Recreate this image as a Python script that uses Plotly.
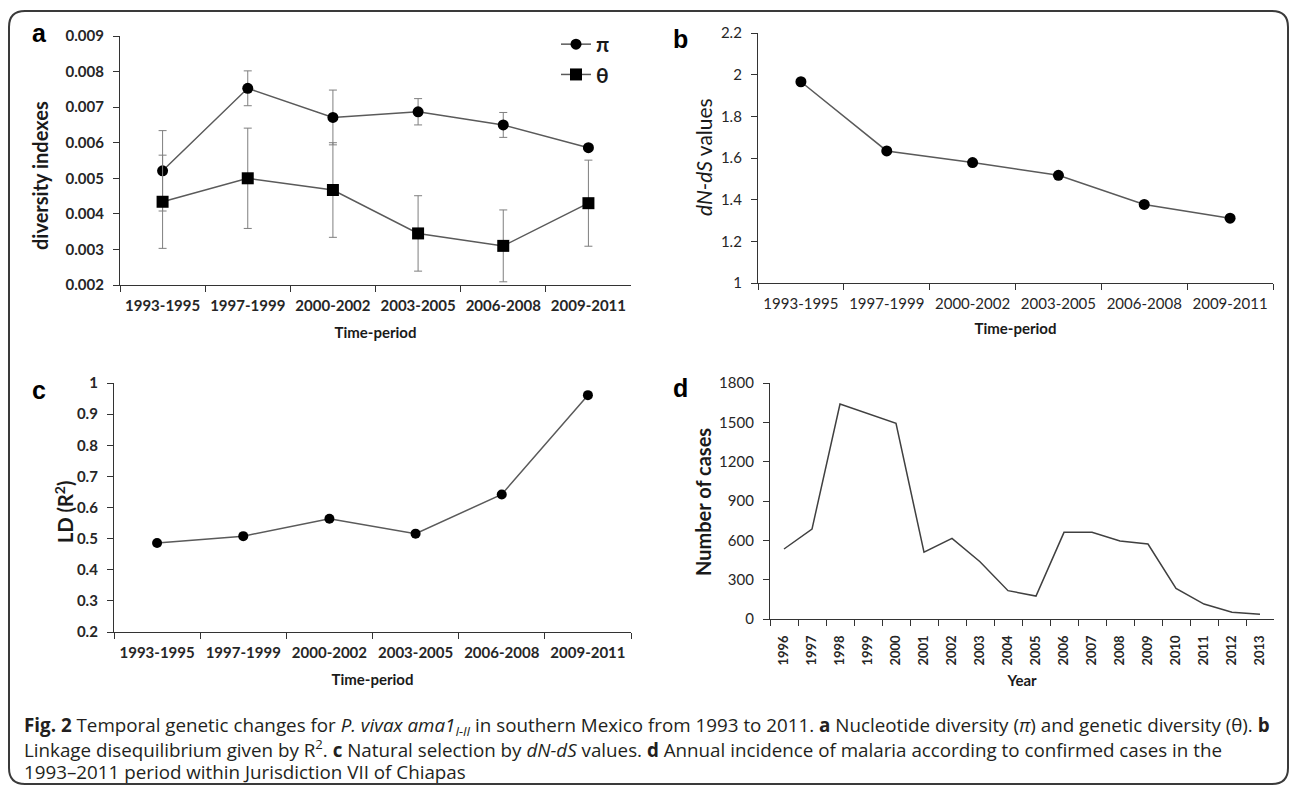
import plotly.graph_objects as go

W, H = 1292, 789

periods = ["1993-1995", "1997-1999", "2000-2002", "2003-2005", "2006-2008", "2009-2011"]
pi_vals = [0.00521, 0.00753, 0.00671, 0.00687, 0.00650, 0.00586]
pi_err = [0.00113, 0.00049, 0.00077, 0.00037, 0.00035, 0.0]
theta_vals = [0.00434, 0.00500, 0.00467, 0.00345, 0.00310, 0.00430]
theta_err = [0.00131, 0.00141, 0.00133, 0.00106, 0.00101, 0.00121]
dnds_vals = [1.966, 1.634, 1.578, 1.517, 1.377, 1.311]
ld_vals = [0.486, 0.508, 0.564, 0.516, 0.642, 0.961]
years = [str(y) for y in range(1996, 2014)]
cases = [534, 686, 1640, 1569, 1493, 509, 615, 437, 216, 175, 661, 661, 595, 572, 234, 114, 52, 37]


def px(x):
    return x / W


def py(y):
    return 1 - y / H


LINE = "#5a5a5a"
TICKF = dict(family="Lato", size=15, color="#262626", weight="bold")
TICKF_REG = dict(family="Lato", size=15, color="#262626")
TITLEF = dict(family="Lato", size=20, color="#1a1a1a", weight="bold")

fig = go.Figure()

# panel a
fig.add_trace(go.Scatter(
    x=periods, y=pi_vals, name="<b>π</b>", mode="lines+markers",
    line=dict(color=LINE, width=1.5),
    marker=dict(symbol="circle", size=11, color="black"),
    error_y=dict(type="data", array=pi_err, visible=True, color="#7f7f7f", thickness=1, width=4),
    xaxis="x", yaxis="y"))
fig.add_trace(go.Scatter(
    x=periods, y=theta_vals, name="<b>θ</b>", mode="lines+markers",
    line=dict(color=LINE, width=1.5),
    marker=dict(symbol="square", size=12, color="black"),
    error_y=dict(type="data", array=theta_err, visible=True, color="#7f7f7f", thickness=1, width=4),
    xaxis="x", yaxis="y"))
# panel b
fig.add_trace(go.Scatter(
    x=periods, y=dnds_vals, mode="lines+markers", showlegend=False,
    line=dict(color=LINE, width=1.5),
    marker=dict(symbol="circle", size=11, color="black"),
    xaxis="x2", yaxis="y2"))
# panel c
fig.add_trace(go.Scatter(
    x=periods, y=ld_vals, mode="lines+markers", showlegend=False,
    line=dict(color=LINE, width=1.5),
    marker=dict(symbol="circle", size=10, color="black"),
    xaxis="x3", yaxis="y3"))
# panel d
fig.add_trace(go.Scatter(
    x=years, y=cases, mode="lines", showlegend=False,
    line=dict(color="#404040", width=1.5),
    xaxis="x4", yaxis="y4"))


def xcat(dom, anchor, title, n, tickfont, angle=0, standoff=14, lblpad=7):
    return dict(domain=dom, anchor=anchor, type="category", range=[-0.5, n - 0.5],
                tickson="boundaries", ticklabelstandoff=lblpad,
                ticks="outside", ticklen=6, tickcolor="#333", showline=True, linecolor="#333",
                linewidth=1.3, showgrid=False, zeroline=False, tickfont=tickfont, tickangle=angle,
                title=dict(text=title, font=dict(family="Lato", size=15, color="#1a1a1a", weight="bold"),
                           standoff=standoff),
                automargin=False, fixedrange=True)


def ylin(dom, anchor, rng, dtick, tickfont, fmt=""):
    return dict(domain=dom, anchor=anchor, range=rng, dtick=dtick, tick0=rng[0], ticks="outside",
                ticklen=6, tickcolor="#333", showline=True, linecolor="#333", linewidth=1.3,
                showgrid=False, zeroline=False, tickfont=tickfont, tickformat=fmt,
                ticklabelstandoff=6, automargin=False, fixedrange=True)


fig.update_layout(
    width=W, height=H, margin=dict(l=0, r=0, t=0, b=0),
    paper_bgcolor="white", plot_bgcolor="white",
    xaxis=xcat([px(120), px(631)], "y", "Time-period", 6, TICKF),
    yaxis=ylin([py(285), py(36)], "x", [0.002, 0.009], 0.001, TICKF, ".3f"),
    xaxis2=xcat([px(758), px(1273)], "y2", "Time-period", 6, TICKF_REG, standoff=12),
    yaxis2=ylin([py(283), py(33)], "x2", [1, 2.2], 0.2, TICKF_REG),
    xaxis3=xcat([px(114), px(631)], "y3", "Time-period", 6, TICKF),
    yaxis3=ylin([py(632), py(383)], "x3", [0.2, 1.0], 0.1, TICKF),
    xaxis4=xcat([px(770), px(1274)], "y4", "Year", 18,
                dict(family="Lato", size=13, color="#262626", weight="bold"), angle=-90,
                standoff=10, lblpad=10),
    yaxis4=ylin([py(619), py(383)], "x4", [0, 1800], 300, TICKF_REG),
    legend=dict(x=px(556), y=py(24), xanchor="left", yanchor="top",
                font=dict(family="Lato", size=21, color="#1a1a1a"),
                bgcolor="rgba(0,0,0,0)", tracegroupgap=4, itemwidth=30),
    showlegend=True,
)

annos = [
    dict(text="a", x=39, y=33),
    dict(text="b", x=680, y=39),
    dict(text="c", x=39, y=390),
    dict(text="d", x=680, y=388),
]
for a in annos:
    fig.add_annotation(text=a["text"], x=px(a["x"]), y=py(a["y"]), xref="paper", yref="paper",
                       xanchor="center", yanchor="middle", showarrow=False,
                       font=dict(family="Liberation Sans", size=25, color="black", weight="bold"))

ytitles = [
    dict(text="diversity indexes", x=40, y=176, font=TITLEF),
    dict(text="<i>dN-dS</i> values", x=704, y=157,
         font=dict(family="Lato", size=21, color="#1a1a1a")),
    dict(text="LD (R<sup>2</sup>)", x=64, y=512, font=TITLEF),
    dict(text="Number of cases", x=703, y=502, font=TITLEF),
]
for t in ytitles:
    fig.add_annotation(text=t["text"], x=px(t["x"]), y=py(t["y"]), xref="paper", yref="paper",
                       xanchor="center", yanchor="middle",
                       showarrow=False, textangle=-90, font=t["font"])

caption = [
    "<b>Fig. 2</b> Temporal genetic changes for <i>P. vivax ama1</i><sub><i>I-II</i></sub> in southern Mexico "
    "from 1993 to 2011. <b>a</b> Nucleotide diversity (<i>π</i>) and genetic diversity (θ). <b>b</b>",
    "Linkage disequilibrium given by R<sup>2</sup>. <b>c</b> Natural selection by <i>dN-dS</i> values. "
    "<b>d</b> Annual incidence of malaria according to confirmed cases in the",
    "1993–2011 period within Jurisdiction VII of Chiapas",
]
for i, line in enumerate(caption):
    fig.add_annotation(text=line, x=px(22), y=py(726 + 23 * i), xref="paper", yref="paper",
                       xanchor="left", yanchor="middle", showarrow=False, align="left",
                       font=dict(family="Open Sans", size=18.8, color="#231f20"))

# rounded frame around the figure
x0, x1, y0, y1 = px(9), px(1288), py(784), py(11)
rx, ry = 16 / W, 16 / H
path = (f"M {x0+rx},{y1} L {x1-rx},{y1} Q {x1},{y1} {x1},{y1-ry} L {x1},{y0+ry} "
        f"Q {x1},{y0} {x1-rx},{y0} L {x0+rx},{y0} Q {x0},{y0} {x0},{y0+ry} "
        f"L {x0},{y1-ry} Q {x0},{y1} {x0+rx},{y1} Z")
fig.add_shape(type="path", path=path, xref="paper", yref="paper",
              line=dict(color="#3a3a3a", width=2))

fig.write_html("out.html", config={"displayModeBar": False},
               post_script="document.body.style.margin='0';document.body.style.overflow='hidden';")
